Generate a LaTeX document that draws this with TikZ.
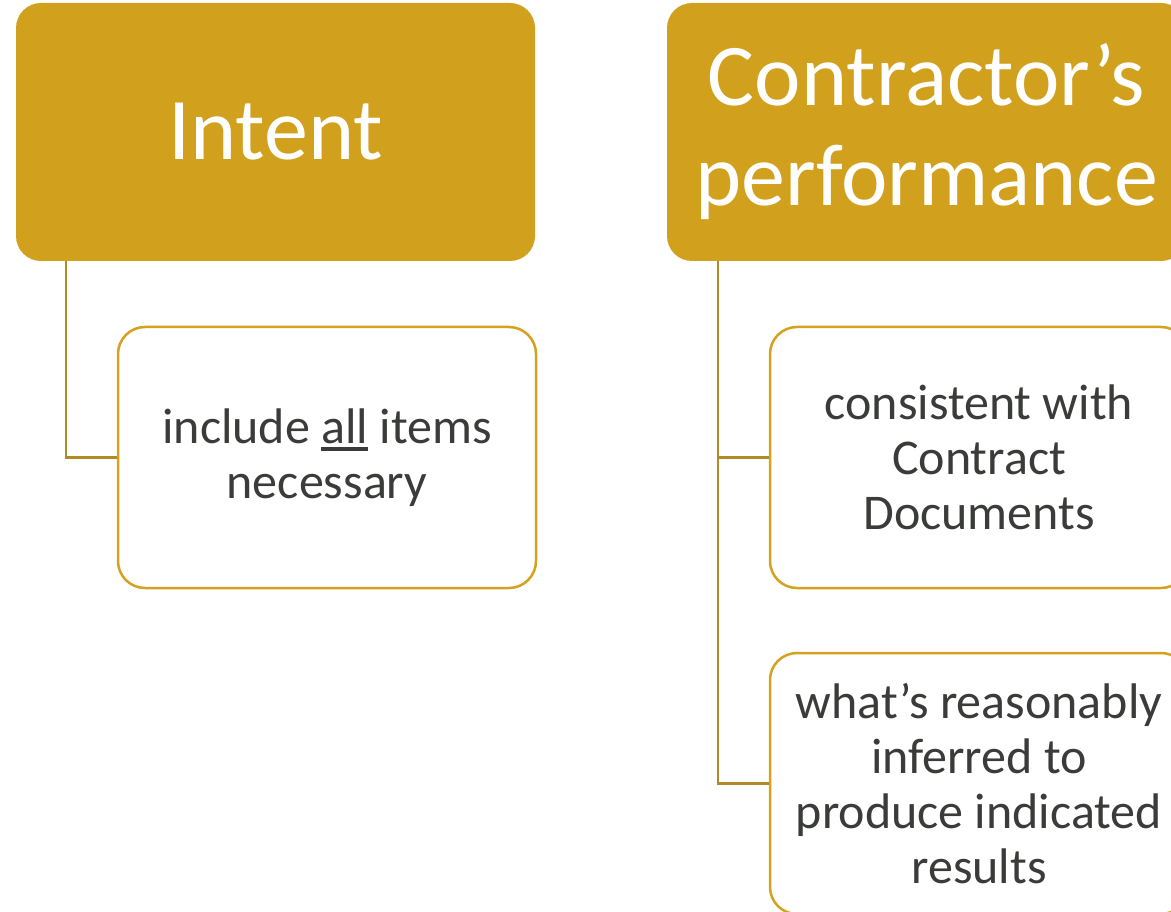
\documentclass[tikz,border=0pt]{standalone}
\usepackage{fontspec}
\setmainfont{Carlito}
\definecolor{gold}{HTML}{D1A01D}
\definecolor{goldline}{HTML}{B08A22}
\definecolor{goldborder}{HTML}{D4A21F}
\definecolor{txt}{HTML}{3A3C39}
\newlength\myullen
\newcommand\myul[1]{\settowidth{\myullen}{#1}\rlap{\rule[-8pt]{\myullen}{4pt}}#1}
\tikzset{
  hdr/.style={rectangle, rounded corners=25pt, fill=gold, text=white, align=center,
    minimum width=519pt, minimum height=258pt, inner sep=0pt,
    font=\fontsize{88}{100}\selectfont},
  child/.style={rectangle, rounded corners=27pt, draw=goldborder, line width=2.5pt, fill=white,
    text=txt, align=center, minimum width=418pt, minimum height=261pt, inner sep=0pt,
    font=\fontsize{50}{55}\selectfont},
  conn/.style={draw=goldline, line width=2.5pt}
}
\begin{document}
\begin{tikzpicture}[x=1pt,y=-1pt]
\clip (0,0) rectangle (1171,912);
\useasboundingbox (0,0) rectangle (1171,912);
\fill[white] (0,0) rectangle (1171,912);
\node[hdr] (intent) at (275.5,132) {Intent};
\node[hdr] (perf) at (926.5,132) {Contractor’s\\performance};
\node[child] (inc) at (327,457.5) {include \myul{all} items\\necessary};
\node[child] (cons) at (979,457.5) {consistent with\\Contract\\Documents};
\node[child] (what) at (979,783.5) {what’s reasonably\\inferred to\\produce indicated\\results};
\draw[conn] ([xshift=50pt]intent.south west) |- (inc.west);
\draw[conn] ([xshift=51pt]perf.south west) |- (cons.west);
\draw[conn] ([xshift=51pt]perf.south west) |- (what.west);
\end{tikzpicture}
\end{document}
